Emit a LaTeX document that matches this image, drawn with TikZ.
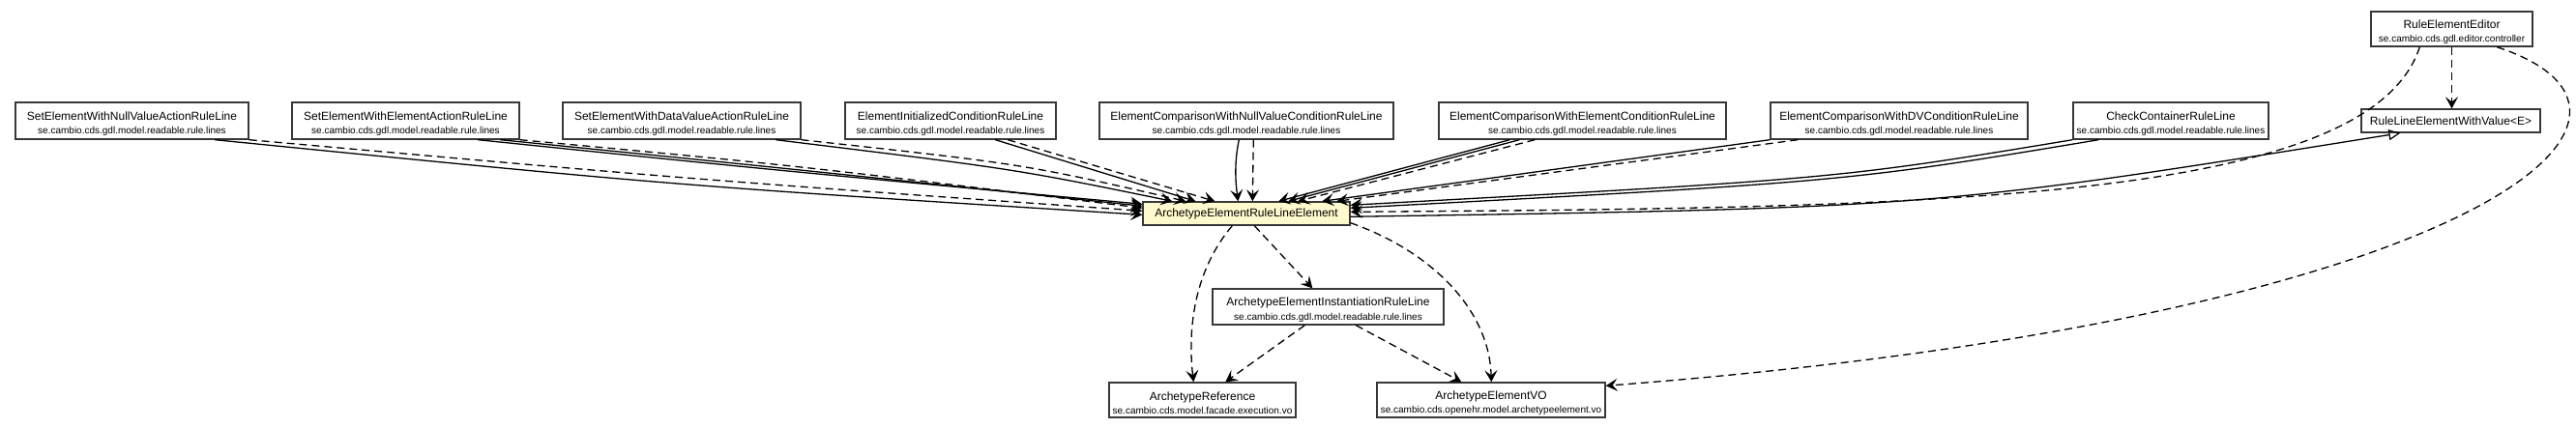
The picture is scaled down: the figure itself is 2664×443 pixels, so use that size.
\documentclass[tikz,border=0pt]{standalone}
\usepackage{fontspec}
\setmainfont{Liberation Sans}
\usetikzlibrary{arrows.meta,calc}
\definecolor{lemon}{RGB}{255,250,205}
\newcommand{\umlcls}[2]{\rule{0pt}{15pt}{\fontsize{12}{14.5}\selectfont #1}\\{\fontsize{10}{14.5}\selectfont #2}}
\tikzset{
  cls/.style={draw=black!78, line width=1.4pt, fill=white, rectangle, inner sep=0pt, align=center,
    font=\fontsize{12}{14.5}\selectfont},
  twoline/.style={cls, minimum height=38pt},
  oneline/.style={cls, minimum height=24pt},
  vhead/.style={-{Stealth[length=12pt,width=13pt,inset=5pt]}},
  assoc/.style={line width=1.3pt, vhead},
  dep/.style={line width=1.3pt, dash pattern=on 8pt off 5pt, vhead},
  inherit/.style={line width=1.3pt, -{Triangle[open,length=12pt,width=11pt,line width=1.2pt]}}
}
\begin{document}
\begin{tikzpicture}[x=1pt,y=-1pt]
\useasboundingbox (0,0) rectangle (2664,443);
\fill[white] (0,0) rectangle (2664,443);

% top row
\node[twoline, minimum width=241pt] (n1) at (136.5,125) {\umlcls{SetElementWithNullValueActionRuleLine}{se.cambio.cds.gdl.model.readable.rule.lines}};
\node[twoline, minimum width=235pt] (n2) at (419.5,125) {\umlcls{SetElementWithElementActionRuleLine}{se.cambio.cds.gdl.model.readable.rule.lines}};
\node[twoline, minimum width=246pt] (n3) at (705,125) {\umlcls{SetElementWithDataValueActionRuleLine}{se.cambio.cds.gdl.model.readable.rule.lines}};
\node[twoline, minimum width=218pt] (n4) at (983,125) {\umlcls{ElementInitializedConditionRuleLine}{se.cambio.cds.gdl.model.readable.rule.lines}};
\node[twoline, minimum width=304pt] (n5) at (1289,125) {\umlcls{ElementComparisonWithNullValueConditionRuleLine}{se.cambio.cds.gdl.model.readable.rule.lines}};
\node[twoline, minimum width=297pt] (n6) at (1636.5,125) {\umlcls{ElementComparisonWithElementConditionRuleLine}{se.cambio.cds.gdl.model.readable.rule.lines}};
\node[twoline, minimum width=266pt] (n7) at (1964,125) {\umlcls{ElementComparisonWithDVConditionRuleLine}{se.cambio.cds.gdl.model.readable.rule.lines}};
\node[twoline, minimum width=202pt] (n8) at (2245,125) {\umlcls{CheckContainerRuleLine}{se.cambio.cds.gdl.model.readable.rule.lines}};

\node[twoline, minimum width=167pt, minimum height=36pt] (ed) at (2535.5,30) {\umlcls{RuleElementEditor}{se.cambio.cds.gdl.editor.controller}};
\node[oneline, minimum width=185pt] (wv) at (2534.5,125) {RuleLineElementWithValue<E>};

\node[oneline, minimum width=214pt, fill=lemon] (c) at (1289,221) {ArchetypeElementRuleLineElement};
\node[twoline, minimum width=239pt, minimum height=37pt] (inst) at (1373.5,317.5) {\umlcls{ArchetypeElementInstantiationRuleLine}{se.cambio.cds.gdl.model.readable.rule.lines}};
\node[twoline, minimum width=193pt, minimum height=36pt] (aref) at (1243.5,414) {\umlcls{ArchetypeReference}{se.cambio.cds.model.facade.execution.vo}};
\node[twoline, minimum width=236pt, minimum height=36pt] (avo) at (1542,414) {\umlcls{ArchetypeElementVO}{se.cambio.cds.openehr.model.archetypeelement.vo}};

% box1
\draw[assoc] ([xshift=207pt]n1.south west) .. controls (698,192) .. ([yshift=-14pt]c.north west);
\draw[dep] (n1.south east) .. controls (720,186) .. ([yshift=-10pt]c.north west);
% box2
\draw[assoc] ([xshift=193pt]n2.south west) .. controls (800,176) .. ([yshift=-3pt]c.north west);
\draw[assoc] ([xshift=216pt]n2.south west) .. controls (820,175) .. ([yshift=-5pt]c.north west);
\draw[dep] (n2.south east) .. controls (830,172) .. ([yshift=-7pt]c.north west);
% box3
\draw[assoc] ([xshift=221pt]n3.south west) .. controls (1050,175) .. ([xshift=31pt]c.north west);
\draw[dep] (n3.south east) .. controls (1060,170) .. ([xshift=45pt]c.north west);
% box4
\draw[assoc] ([xshift=156pt]n4.south west) -- ([xshift=55pt]c.north west);
\draw[dep] ([xshift=169pt]n4.south west) -- ([xshift=75pt]c.north west);
% box5
\draw[assoc] ([xshift=145pt]n5.south west) .. controls (1276,170) and (1278,190) .. ([xshift=99pt]c.north west);
\draw[dep] ([xshift=160pt]n5.south west) -- ([xshift=114pt]c.north west);
% box6
\draw[assoc] ([xshift=74pt]n6.south west) -- ([xshift=141pt]c.north west);
\draw[assoc] ([xshift=84pt]n6.south west) -- ([xshift=151pt]c.north west);
\draw[dep] ([xshift=100pt]n6.south west) -- ([xshift=161pt]c.north west);
% box7
\draw[assoc] (n7.south west) -- ([xshift=186pt]c.north west);
\draw[dep] ([xshift=29pt]n7.south west) -- ([xshift=201pt]c.north west);
% box8
\draw[assoc] (n8.south west) .. controls (1900,185) .. ([yshift=-4pt]c.north east);
\draw[assoc] ([xshift=27pt]n8.south west) .. controls (1910,188) .. ([yshift=-7pt]c.north east);
% editor
\draw[dep] ([xshift=51pt]ed.south west) .. controls (2450,210) and (2000,215) .. ([yshift=-11pt]c.north east);
\draw[dep] (ed.south) -- (ed.south |- wv.north);
\draw[dep] ([xshift=131pt]ed.south west) .. controls (2800,120) and (2560,330) .. ([yshift=-4pt]avo.north east);
% inheritance
\draw[inherit] ([yshift=-16pt]c.north east) .. controls (2000,215) .. ([xshift=41pt]wv.south west);
% lower part
\draw[dep] ([xshift=116pt]c.south west) -- ([xshift=104pt]inst.north west);
\draw[dep] ([xshift=93pt]c.south west) .. controls (1235,280) and (1228,340) .. ([xshift=88pt]aref.north west);
\draw[dep] ([yshift=3pt]c.south east) .. controls (1480,260) and (1540,320) .. ([xshift=119pt]avo.north west);
\draw[dep] ([xshift=96pt]inst.south west) -- ([xshift=121pt]aref.north west);
\draw[dep] ([xshift=149pt]inst.south west) -- ([xshift=88pt]avo.north west);
\end{tikzpicture}
\end{document}
